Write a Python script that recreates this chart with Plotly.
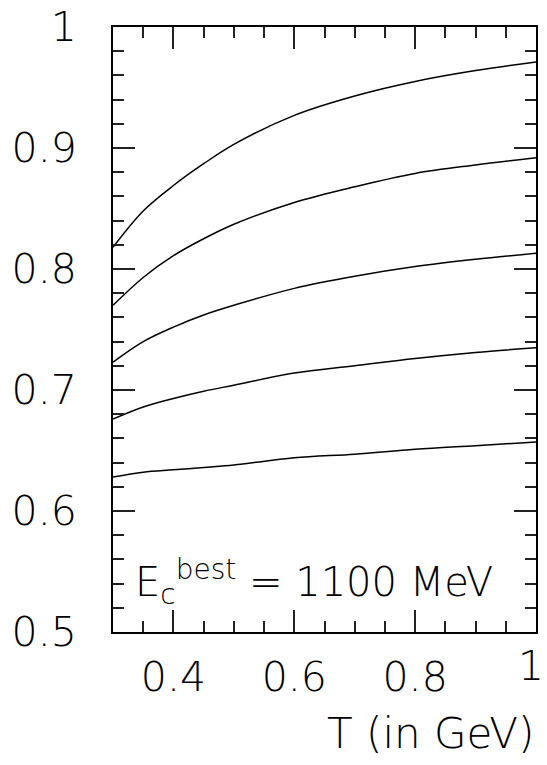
import plotly.graph_objects as go

T = [0.30, 0.35, 0.40, 0.45, 0.50, 0.60, 0.70, 0.80, 0.90, 1.00]
curve1 = [0.818, 0.848, 0.869, 0.887, 0.903, 0.927, 0.943, 0.955, 0.964, 0.971]
curve2 = [0.770, 0.793, 0.811, 0.825, 0.837, 0.855, 0.868, 0.879, 0.886, 0.892]
curve3 = [0.723, 0.740, 0.752, 0.762, 0.770, 0.784, 0.794, 0.802, 0.808, 0.813]
curve4 = [0.676, 0.686, 0.693, 0.699, 0.704, 0.714, 0.720, 0.726, 0.731, 0.735]
curve5 = [0.628, 0.632, 0.634, 0.636, 0.638, 0.644, 0.647, 0.651, 0.654, 0.657]
curves = [curve1, curve2, curve3, curve4, curve5]

x_ticks = [0.4, 0.6, 0.8, 1.0]
x_labels = ["0.4", "0.6", "0.8", "1"]
y_ticks = [0.5, 0.6, 0.7, 0.8, 0.9, 1.0]
y_labels = ["0.5", "0.6", "0.7", "0.8", "0.9", "1"]

FONT = "DejaVu Sans"
W = 200

fig = go.Figure()
for c in curves:
    fig.add_trace(go.Scatter(x=T, y=c, mode="lines", line=dict(color="black", width=1.5, shape="spline"),
                             showlegend=False, hoverinfo="skip"))

axis_common = dict(showgrid=False, zeroline=False, showline=True, linecolor="black", linewidth=2,
                   mirror="allticks", ticks="inside", ticklen=22, tickwidth=2, tickcolor="#222",
                   ticklabeloverflow="allow", automargin=False)

# last x label (at the right edge) is drawn as an annotation so it stays inside the page
fig.update_xaxes(range=[0.3, 1.0], tickvals=x_ticks, ticktext=x_labels[:-1] + [""],
                 tickfont=dict(family=FONT, size=41, color="black", weight=W),
                 ticklabelstandoff=8,
                 minor=dict(dtick=0.05, tick0=0.3, ticks="inside", ticklen=11, tickwidth=2, tickcolor="#222"),
                 **axis_common)
fig.update_yaxes(range=[0.5, 1.0], tickvals=y_ticks, ticktext=y_labels,
                 tickfont=dict(family=FONT, size=41, color="black", weight=W),
                 ticklabelstandoff=26,
                 minor=dict(dtick=0.02, tick0=0.5, ticks="inside", ticklen=11, tickwidth=2, tickcolor="#222"),
                 **axis_common)

fig.add_annotation(xref="x", yref="paper", x=x_ticks[-1], y=0, xanchor="right", yanchor="top",
                   xshift=10, yshift=-8, text=x_labels[-1], showarrow=False,
                   font=dict(family=FONT, size=41, color="black", weight=W))
fig.add_annotation(xref="paper", yref="paper", x=0.047, y=0.083, xanchor="left", yanchor="middle",
                   text="E<sub>c</sub><sup>best</sup> = 1100 MeV", showarrow=False,
                   font=dict(family=FONT, size=40, color="black", weight=W))
fig.add_annotation(xref="paper", yref="paper", x=1.0, y=-0.167, xanchor="right", yanchor="middle",
                   text="T (in GeV)", showarrow=False,
                   font=dict(family=FONT, size=42, color="black", weight=W))

fig.update_layout(width=547, height=765, margin=dict(l=113, r=11, t=27, b=133, autoexpand=False),
                  plot_bgcolor="white", paper_bgcolor="white")

fig.write_html("out.html")
